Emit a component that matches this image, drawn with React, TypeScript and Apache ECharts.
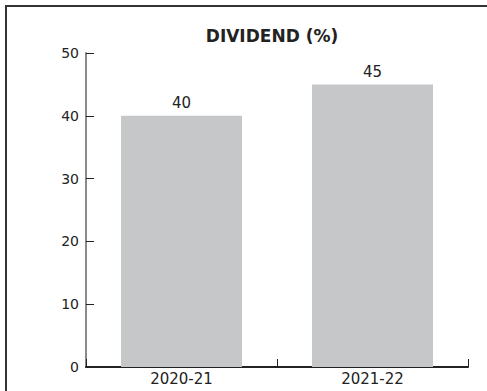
import React, { useEffect, useRef } from "react";
import * as echarts from "echarts";

const categories = ["2020-21", "2021-22"];
const dividendValues = [40, 45];
const yTicks = [0, 10, 20, 30, 40, 50];

const FONT = "'DejaVu Sans', Verdana, sans-serif";

export default function App() {
  const ref = useRef<HTMLDivElement>(null);

  useEffect(() => {
    if (!ref.current) return;
    const chart = echarts.init(ref.current, null, { renderer: "svg" });
    chart.setOption({
      animation: false,
      backgroundColor: "#ffffff",
      title: {
        text: "DIVIDEND (%)",
        left: 267,
        top: 22,
        textAlign: "center",
        textStyle: { fontFamily: FONT, fontSize: 17, fontWeight: "bold", color: "#222222" },
      },
      grid: { left: 86, right: 19, top: 53, bottom: 24, containLabel: false },
      xAxis: {
        type: "category",
        data: categories,
        axisLine: { lineStyle: { color: "#222222", width: 2 } },
        axisTick: { show: true, inside: true, length: 8, lineStyle: { color: "#222222", width: 1 } },
        axisLabel: { fontFamily: FONT, fontSize: 15, color: "#222222", margin: 4 },
      },
      yAxis: {
        type: "value",
        min: yTicks[0],
        max: yTicks[yTicks.length - 1],
        interval: 10,
        axisLine: { show: true, lineStyle: { color: "#8a8a8a", width: 2 } },
        axisTick: { show: true, inside: true, length: 8, lineStyle: { color: "#222222", width: 1 } },
        axisLabel: { fontFamily: FONT, fontSize: 14, color: "#222222", margin: 7 },
        splitLine: { show: false },
      },
      series: [
        {
          type: "bar",
          data: dividendValues,
          barWidth: 121,
          itemStyle: { color: "#c6c7c9" },
          label: {
            show: true,
            position: "top",
            distance: 5,
            fontFamily: FONT,
            fontSize: 15,
            color: "#222222",
          },
        },
      ],
      graphic: [
        {
          type: "polyline",
          shape: { points: [[6, 391], [6, 6], [487, 6]] },
          style: { stroke: "#333333", lineWidth: 2, fill: "none" },
          z: 100,
        },
      ],
    });
    return () => chart.dispose();
  }, []);

  return <div ref={ref} style={{ width: 487, height: 391, position: "absolute", left: 0, top: 0 }} />;
}
